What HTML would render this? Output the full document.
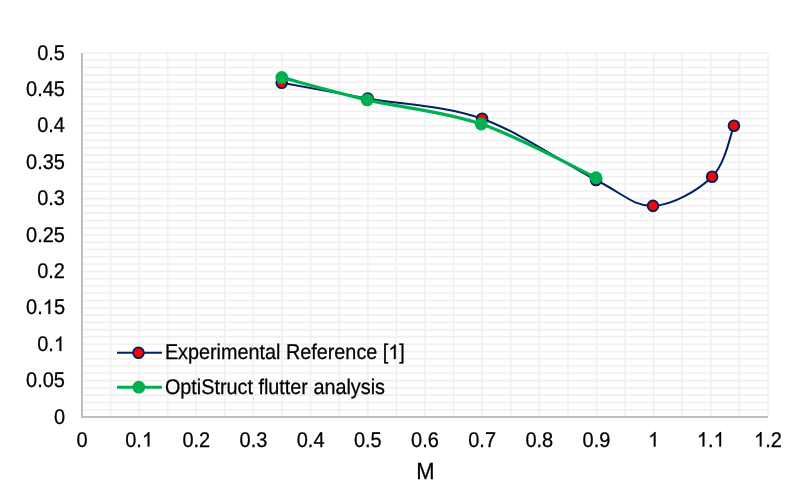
<!DOCTYPE html>
<html><head><meta charset="utf-8"><style>
html,body{margin:0;padding:0;background:#fff;width:800px;height:500px;overflow:hidden}
svg{display:block;will-change:transform}
text{text-rendering:geometricPrecision;font-family:"Liberation Sans",sans-serif;font-size:20px;fill:#000;stroke:#000;stroke-width:0.25px}
.h{fill:none;stroke:none}
.ones path{fill:#000;stroke:#000;stroke-width:25.6}
</style></head><body>
<svg width="800" height="500" viewBox="0 0 800 500">
<rect width="800" height="500" fill="#fff"/>
<g stroke="#F0F0F0" stroke-width="1.6"><line x1="82.00" y1="409.72" x2="768.00" y2="409.72"/><line x1="82.00" y1="402.44" x2="768.00" y2="402.44"/><line x1="82.00" y1="395.16" x2="768.00" y2="395.16"/><line x1="82.00" y1="387.88" x2="768.00" y2="387.88"/><line x1="82.00" y1="380.60" x2="768.00" y2="380.60"/><line x1="82.00" y1="373.32" x2="768.00" y2="373.32"/><line x1="82.00" y1="366.04" x2="768.00" y2="366.04"/><line x1="82.00" y1="358.76" x2="768.00" y2="358.76"/><line x1="82.00" y1="351.48" x2="768.00" y2="351.48"/><line x1="82.00" y1="344.20" x2="768.00" y2="344.20"/><line x1="82.00" y1="336.92" x2="768.00" y2="336.92"/><line x1="82.00" y1="329.64" x2="768.00" y2="329.64"/><line x1="82.00" y1="322.36" x2="768.00" y2="322.36"/><line x1="82.00" y1="315.08" x2="768.00" y2="315.08"/><line x1="82.00" y1="307.80" x2="768.00" y2="307.80"/><line x1="82.00" y1="300.52" x2="768.00" y2="300.52"/><line x1="82.00" y1="293.24" x2="768.00" y2="293.24"/><line x1="82.00" y1="285.96" x2="768.00" y2="285.96"/><line x1="82.00" y1="278.68" x2="768.00" y2="278.68"/><line x1="82.00" y1="271.40" x2="768.00" y2="271.40"/><line x1="82.00" y1="264.12" x2="768.00" y2="264.12"/><line x1="82.00" y1="256.84" x2="768.00" y2="256.84"/><line x1="82.00" y1="249.56" x2="768.00" y2="249.56"/><line x1="82.00" y1="242.28" x2="768.00" y2="242.28"/><line x1="82.00" y1="235.00" x2="768.00" y2="235.00"/><line x1="82.00" y1="227.72" x2="768.00" y2="227.72"/><line x1="82.00" y1="220.44" x2="768.00" y2="220.44"/><line x1="82.00" y1="213.16" x2="768.00" y2="213.16"/><line x1="82.00" y1="205.88" x2="768.00" y2="205.88"/><line x1="82.00" y1="198.60" x2="768.00" y2="198.60"/><line x1="82.00" y1="191.32" x2="768.00" y2="191.32"/><line x1="82.00" y1="184.04" x2="768.00" y2="184.04"/><line x1="82.00" y1="176.76" x2="768.00" y2="176.76"/><line x1="82.00" y1="169.48" x2="768.00" y2="169.48"/><line x1="82.00" y1="162.20" x2="768.00" y2="162.20"/><line x1="82.00" y1="154.92" x2="768.00" y2="154.92"/><line x1="82.00" y1="147.64" x2="768.00" y2="147.64"/><line x1="82.00" y1="140.36" x2="768.00" y2="140.36"/><line x1="82.00" y1="133.08" x2="768.00" y2="133.08"/><line x1="82.00" y1="125.80" x2="768.00" y2="125.80"/><line x1="82.00" y1="118.52" x2="768.00" y2="118.52"/><line x1="82.00" y1="111.24" x2="768.00" y2="111.24"/><line x1="82.00" y1="103.96" x2="768.00" y2="103.96"/><line x1="82.00" y1="96.68" x2="768.00" y2="96.68"/><line x1="82.00" y1="89.40" x2="768.00" y2="89.40"/><line x1="82.00" y1="82.12" x2="768.00" y2="82.12"/><line x1="82.00" y1="74.84" x2="768.00" y2="74.84"/><line x1="82.00" y1="67.56" x2="768.00" y2="67.56"/><line x1="82.00" y1="60.28" x2="768.00" y2="60.28"/><line x1="82.00" y1="53.00" x2="768.00" y2="53.00"/><line x1="110.58" y1="53.00" x2="110.58" y2="417.00"/><line x1="139.17" y1="53.00" x2="139.17" y2="417.00"/><line x1="167.75" y1="53.00" x2="167.75" y2="417.00"/><line x1="196.33" y1="53.00" x2="196.33" y2="417.00"/><line x1="224.92" y1="53.00" x2="224.92" y2="417.00"/><line x1="253.50" y1="53.00" x2="253.50" y2="417.00"/><line x1="282.08" y1="53.00" x2="282.08" y2="417.00"/><line x1="310.67" y1="53.00" x2="310.67" y2="417.00"/><line x1="339.25" y1="53.00" x2="339.25" y2="417.00"/><line x1="367.83" y1="53.00" x2="367.83" y2="417.00"/><line x1="396.42" y1="53.00" x2="396.42" y2="417.00"/><line x1="425.00" y1="53.00" x2="425.00" y2="417.00"/><line x1="453.58" y1="53.00" x2="453.58" y2="417.00"/><line x1="482.17" y1="53.00" x2="482.17" y2="417.00"/><line x1="510.75" y1="53.00" x2="510.75" y2="417.00"/><line x1="539.33" y1="53.00" x2="539.33" y2="417.00"/><line x1="567.92" y1="53.00" x2="567.92" y2="417.00"/><line x1="596.50" y1="53.00" x2="596.50" y2="417.00"/><line x1="625.08" y1="53.00" x2="625.08" y2="417.00"/><line x1="653.67" y1="53.00" x2="653.67" y2="417.00"/><line x1="682.25" y1="53.00" x2="682.25" y2="417.00"/><line x1="710.83" y1="53.00" x2="710.83" y2="417.00"/><line x1="739.42" y1="53.00" x2="739.42" y2="417.00"/><line x1="768.00" y1="53.00" x2="768.00" y2="417.00"/></g>
<g stroke="#BFBFBF" stroke-width="2"><line x1="82.00" y1="53.00" x2="82.00" y2="418.00"/><line x1="82.00" y1="417.00" x2="768.00" y2="417.00"/></g>
<g><text x="65.00" y="424.00" text-anchor="end" transform="matrix(1.0000,0,0,1.0650,-0.000,-27.560)">0</text>
<text x="65.00" y="387.00" text-anchor="end" transform="matrix(1.0000,0,0,1.0650,-0.000,-25.155)">0.05</text>
<text x="65.00" y="351.00" text-anchor="end" transform="matrix(1.0000,0,0,1.0650,-0.000,-22.815)">0.<tspan class="h">1</tspan></text>
<text x="65.00" y="314.00" text-anchor="end" transform="matrix(1.0000,0,0,1.0650,-0.000,-20.410)">0.<tspan class="h">1</tspan>5</text>
<text x="65.00" y="278.00" text-anchor="end" transform="matrix(1.0000,0,0,1.0650,-0.000,-18.070)">0.2</text>
<text x="65.00" y="242.00" text-anchor="end" transform="matrix(1.0000,0,0,1.0650,-0.000,-15.730)">0.25</text>
<text x="65.00" y="205.00" text-anchor="end" transform="matrix(1.0000,0,0,1.0650,-0.000,-13.325)">0.3</text>
<text x="65.00" y="169.00" text-anchor="end" transform="matrix(1.0000,0,0,1.0650,-0.000,-10.985)">0.35</text>
<text x="65.00" y="132.00" text-anchor="end" transform="matrix(1.0000,0,0,1.0650,-0.000,-8.580)">0.4</text>
<text x="65.00" y="96.00" text-anchor="end" transform="matrix(1.0000,0,0,1.0650,-0.000,-6.240)">0.45</text>
<text x="65.00" y="60.00" text-anchor="end" transform="matrix(1.0000,0,0,1.0650,-0.000,-3.900)">0.5</text>
<text x="82.00" y="446.50" text-anchor="middle" transform="matrix(1.0000,0,0,1.0650,-0.000,-29.022)">0</text>
<text x="139.17" y="446.50" text-anchor="middle" transform="matrix(1.0000,0,0,1.0650,-0.000,-29.022)">0.<tspan class="h">1</tspan></text>
<text x="196.33" y="446.50" text-anchor="middle" transform="matrix(1.0000,0,0,1.0650,-0.000,-29.022)">0.2</text>
<text x="253.50" y="446.50" text-anchor="middle" transform="matrix(1.0000,0,0,1.0650,-0.000,-29.022)">0.3</text>
<text x="310.67" y="446.50" text-anchor="middle" transform="matrix(1.0000,0,0,1.0650,-0.000,-29.022)">0.4</text>
<text x="367.83" y="446.50" text-anchor="middle" transform="matrix(1.0000,0,0,1.0650,-0.000,-29.022)">0.5</text>
<text x="425.00" y="446.50" text-anchor="middle" transform="matrix(1.0000,0,0,1.0650,-0.000,-29.022)">0.6</text>
<text x="482.17" y="446.50" text-anchor="middle" transform="matrix(1.0000,0,0,1.0650,-0.000,-29.022)">0.7</text>
<text x="539.33" y="446.50" text-anchor="middle" transform="matrix(1.0000,0,0,1.0650,-0.000,-29.022)">0.8</text>
<text x="596.50" y="446.50" text-anchor="middle" transform="matrix(1.0000,0,0,1.0650,-0.000,-29.022)">0.9</text>
<text x="653.67" y="446.50" text-anchor="middle" transform="matrix(1.0000,0,0,1.0650,-0.000,-29.022)"><tspan class="h">1</tspan></text>
<text x="710.83" y="446.50" text-anchor="middle" transform="matrix(1.0000,0,0,1.0650,-0.000,-29.022)"><tspan class="h">1</tspan>.<tspan class="h">1</tspan></text>
<text x="768.00" y="446.50" text-anchor="middle" transform="matrix(1.0000,0,0,1.0650,-0.000,-29.022)"><tspan class="h">1</tspan>.2</text>
<text x="425.50" y="479.00" text-anchor="middle" transform="matrix(1.0000,0,0,1.0650,-0.000,-31.135)" style="font-size:22px">M</text></g>
<path d="M281.70,82.80 C296.03,85.42 334.29,92.52 367.70,98.50 C401.11,104.48 444.10,105.12 482.15,118.70 C520.20,132.28 567.52,165.47 596.00,180.00 C624.48,194.53 633.65,206.44 653.00,205.90 C672.35,205.36 698.61,190.11 712.10,176.75 C725.59,163.39 730.31,134.25 733.95,125.75" fill="none" stroke="#002060" stroke-width="2.0"/>
<circle cx="281.70" cy="82.80" r="5.35" fill="#FF0000" stroke="#002060" stroke-width="1.9"/>
<circle cx="367.70" cy="98.50" r="5.35" fill="#FF0000" stroke="#002060" stroke-width="1.9"/>
<circle cx="482.15" cy="118.70" r="5.35" fill="#FF0000" stroke="#002060" stroke-width="1.9"/>
<circle cx="596.00" cy="180.00" r="5.35" fill="#FF0000" stroke="#002060" stroke-width="1.9"/>
<circle cx="653.00" cy="205.90" r="5.35" fill="#FF0000" stroke="#002060" stroke-width="1.9"/>
<circle cx="712.10" cy="176.75" r="5.35" fill="#FF0000" stroke="#002060" stroke-width="1.9"/>
<circle cx="733.95" cy="125.75" r="5.35" fill="#FF0000" stroke="#002060" stroke-width="1.9"/>
<path d="M281.80,77.45 C296.02,81.19 333.88,92.14 367.10,99.90 C400.33,107.66 443.00,111.03 481.15,124.00 C519.30,136.97 576.86,168.75 596.00,177.70" fill="none" stroke="#00B050" stroke-width="3.3"/>
<circle cx="281.80" cy="77.45" r="6.4" fill="#00B050"/>
<circle cx="367.10" cy="99.90" r="6.4" fill="#00B050"/>
<circle cx="481.15" cy="124.00" r="6.4" fill="#00B050"/>
<circle cx="596.00" cy="177.70" r="6.4" fill="#00B050"/>
<g><line x1="117" y1="352.7" x2="162" y2="352.7" stroke="#002060" stroke-width="2.0"/>
<circle cx="138.5" cy="352.7" r="5.35" fill="#FF0000" stroke="#002060" stroke-width="1.9"/>
<line x1="117" y1="387.3" x2="162" y2="387.3" stroke="#00B050" stroke-width="3.0"/>
<circle cx="138.8" cy="387.2" r="6.4" fill="#00B050"/>
<text x="164.90" y="359.00" text-anchor="start" transform="matrix(0.9900,0,0,1.0650,1.649,-23.335)">Experimental Reference [<tspan class="h">1</tspan>]</text>
<text x="164.90" y="393.50" text-anchor="start" transform="matrix(0.9900,0,0,1.0650,1.649,-25.577)">OptiStruct flutter analysis</text></g>
<g class="ones"><path transform="translate(53.875,351.000) scale(0.009766,-0.009766)" d="M763 0H583V1147Q518 1085 412.5 1023Q307 961 223 930V1104Q374 1175 487 1276Q600 1377 647 1472H763Z"/>
<path transform="translate(42.750,314.000) scale(0.009766,-0.009766)" d="M763 0H583V1147Q518 1085 412.5 1023Q307 961 223 930V1104Q374 1175 487 1276Q600 1377 647 1472H763Z"/>
<path transform="translate(141.951,446.500) scale(0.009766,-0.009766)" d="M763 0H583V1147Q518 1085 412.5 1023Q307 961 223 930V1104Q374 1175 487 1276Q600 1377 647 1472H763Z"/>
<path transform="translate(648.107,446.500) scale(0.009766,-0.009766)" d="M763 0H583V1147Q518 1085 412.5 1023Q307 961 223 930V1104Q374 1175 487 1276Q600 1377 647 1472H763Z"/>
<path transform="translate(696.924,446.500) scale(0.009766,-0.009766)" d="M763 0H583V1147Q518 1085 412.5 1023Q307 961 223 930V1104Q374 1175 487 1276Q600 1377 647 1472H763Z"/>
<path transform="translate(713.611,446.500) scale(0.009766,-0.009766)" d="M763 0H583V1147Q518 1085 412.5 1023Q307 961 223 930V1104Q374 1175 487 1276Q600 1377 647 1472H763Z"/>
<path transform="translate(754.094,446.500) scale(0.009766,-0.009766)" d="M763 0H583V1147Q518 1085 412.5 1023Q307 961 223 930V1104Q374 1175 487 1276Q600 1377 647 1472H763Z"/>
<path transform="translate(388.315,359.000) scale(0.009668,-0.009766)" d="M763 0H583V1147Q518 1085 412.5 1023Q307 961 223 930V1104Q374 1175 487 1276Q600 1377 647 1472H763Z"/></g>
</svg>
</body></html>
